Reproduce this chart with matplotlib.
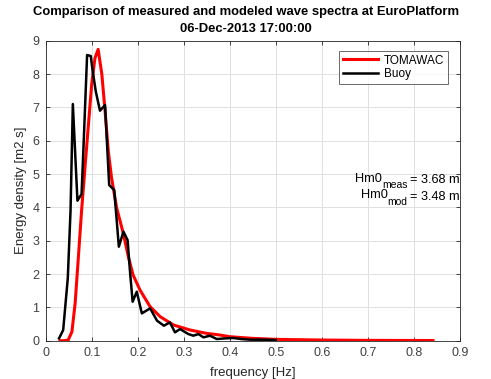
import matplotlib
matplotlib.use("Agg")
import matplotlib.pyplot as plt
import numpy as np

plt.rcParams['font.family'] = ['Liberation Sans', 'DejaVu Sans']

# Buoy (measured) spectrum
buoy_f = [0.029, 0.038, 0.048, 0.054, 0.059, 0.069, 0.078, 0.083, 0.090, 0.098,
          0.102, 0.109, 0.118, 0.129, 0.138, 0.149, 0.159, 0.169, 0.178, 0.183,
          0.189, 0.198, 0.209, 0.227, 0.242, 0.257, 0.270, 0.281, 0.292, 0.310,
          0.321, 0.332, 0.343, 0.357, 0.372, 0.390, 0.408, 0.425, 0.444, 0.470, 0.500]
buoy_E = [0.07, 0.32, 1.87, 3.9, 7.1, 4.2, 4.4, 6.1, 8.57, 8.54,
          8.1, 7.47, 6.9, 7.07, 4.67, 4.52, 2.82, 3.27, 3.02, 2.12,
          1.17, 1.47, 0.82, 0.97, 0.60, 0.45, 0.55, 0.25, 0.35, 0.20,
          0.15, 0.20, 0.10, 0.15, 0.05, 0.07, 0.08, 0.05, 0.03, 0.03, 0.02]

# TOMAWAC (modeled) spectrum
tom_f = [0.031, 0.040, 0.049, 0.057, 0.064, 0.071, 0.078, 0.086, 0.093, 0.100,
         0.107, 0.114, 0.122, 0.129, 0.136, 0.143, 0.154, 0.169, 0.180, 0.190,
         0.205, 0.227, 0.249, 0.278, 0.314, 0.350, 0.379, 0.400, 0.450, 0.500,
         0.600, 0.700, 0.842]
tom_E = [0.0, 0.0, 0.02, 0.27, 1.12, 2.5, 3.9, 5.3, 6.5, 7.7,
         8.47, 8.74, 8.0, 6.9, 5.7, 4.9, 4.0, 3.2, 2.5, 1.97,
         1.52, 1.02, 0.72, 0.47, 0.32, 0.22, 0.17, 0.12, 0.07, 0.04,
         0.02, 0.01, 0.005]

hm0_labels = ['meas', 'mod']
hm0_values = [3.68, 3.48]

fig = plt.figure(figsize=(4.91, 3.79), dpi=100)
ax = fig.add_axes([45.7/491, 1-340.7/379, (459.7-45.7)/491, (340.7-40.7)/379])

ax.plot(tom_f, tom_E, color='#ff0000', lw=2.2, label='TOMAWAC', zorder=3)
ax.plot(buoy_f, buoy_E, color='black', lw=1.8, label='Buoy', zorder=4)

ax.set_xlim(0, 0.9)
ax.set_ylim(0, 9)
ax.set_xticks(np.arange(0, 0.91, 0.1))
ax.set_xticklabels(['0', '0.1', '0.2', '0.3', '0.4', '0.5', '0.6', '0.7', '0.8', '0.9'])
ax.set_yticks(range(0, 10))
ax.grid(True, color='#e0e0e0', lw=0.7)
ax.set_axisbelow(True)
ax.tick_params(direction='in', top=True, right=True, labelsize=9, length=3,
               width=0.6, color='#262626', labelcolor='#404040', pad=4.5)
for s in ax.spines.values():
    s.set_color('#262626')
    s.set_linewidth(0.6)

ax.set_xlabel('frequency [Hz]', fontsize=9.5, color='#262626', labelpad=5.5)
ax.set_ylabel('Energy density [m2 s]', fontsize=9.5, color='#262626', labelpad=4)

fig.text(246/491, 1-12/379, 'Comparison of measured and modeled wave spectra at EuroPlatform',
         ha='center', va='center', fontsize=9.4, fontweight='bold')
fig.text(246/491, 1-29/379, '06-Dec-2013 17:00:00',
         ha='center', va='center', fontsize=9.4, fontweight='bold')

leg = ax.legend(loc='upper right', bbox_to_anchor=(448/491, 1-51/379),
                bbox_transform=fig.transFigure, fontsize=8.5, frameon=True,
                fancybox=False, edgecolor='#262626', handlelength=3.0,
                borderpad=0.3, labelspacing=0.15, handletextpad=0.5,
                borderaxespad=0)
leg.get_frame().set_linewidth(0.6)

# Hm0 annotations (main text + larger MATLAB-style subscript)
main_fs = 9.2
sub_fs = 7.5
desc_main = 0.21 * main_fs * 100 / 72
desc_sub = 0.21 * sub_fs * 100 / 72
for yv, lab, val in zip([4.73, 4.23], hm0_labels, hm0_values):
    t_eq = ax.text(0.9, yv, '= %.2f m' % val, ha='right', va='baseline',
                   fontsize=main_fs, color='black')
    t_sub = ax.annotate(lab, xy=(0, 0), xycoords=t_eq,
                        xytext=(-2.5, desc_main - 5), textcoords='offset pixels',
                        ha='right', va='baseline', fontsize=sub_fs, color='black')
    ax.annotate('Hm0', xy=(0, 0), xycoords=t_sub,
                xytext=(0, desc_sub + 6.5), textcoords='offset pixels',
                ha='right', va='baseline', fontsize=main_fs, color='black')

fig.savefig('out.png', dpi=100)
